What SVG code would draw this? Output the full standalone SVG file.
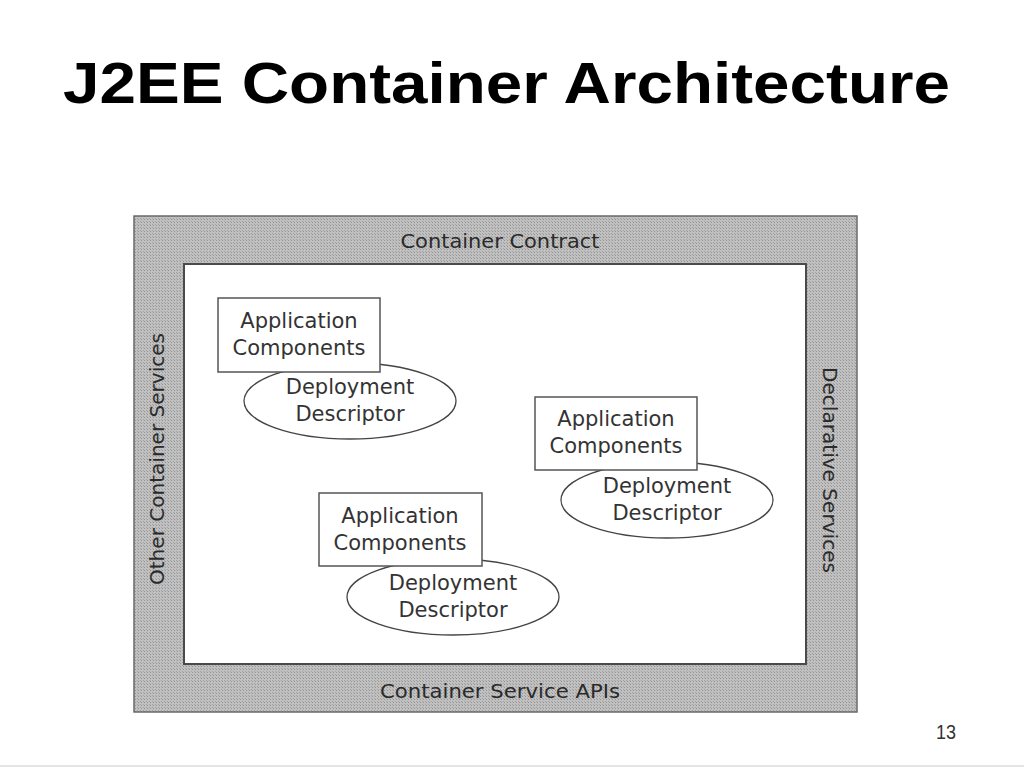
<svg xmlns="http://www.w3.org/2000/svg" width="1024" height="768" viewBox="0 0 1024 768">
<defs>
<pattern id="stipple" width="3" height="3" patternUnits="userSpaceOnUse">
<rect width="3" height="3" fill="#c0c0c0"/>
<rect width="1" height="1" fill="#949494"/>
<rect x="2" y="2" width="1" height="1" fill="#a2a2a2"/>
</pattern>
<style>
.lbl{font-family:"DejaVu Sans","Liberation Sans",sans-serif;font-size:21px;fill:#333;text-anchor:middle}
.band{font-family:"DejaVu Sans","Liberation Sans",sans-serif;font-size:20px;fill:#2a2a2a;text-anchor:middle}
.box{fill:#fff;stroke:#555;stroke-width:1.5}
.ell{fill:#fff;stroke:#444;stroke-width:1.3}
</style>
</defs>
<rect width="1024" height="768" fill="#fff"/>
<text x="63" y="103" font-family="Liberation Sans,Arial,sans-serif" font-weight="bold" font-size="57" fill="#000" textLength="887" lengthAdjust="spacingAndGlyphs">J2EE Container Architecture</text>

<g id="container">
<rect x="134" y="216" width="723" height="496" fill="url(#stipple)" stroke="#6a6a6a" stroke-width="1.5"/>
<rect x="184" y="264" width="622" height="400" fill="#fff" stroke="#4a4a4a" stroke-width="2"/>
<text class="band" x="500" y="248" textLength="199" lengthAdjust="spacingAndGlyphs">Container Contract</text>
<text class="band" x="500" y="698" textLength="240" lengthAdjust="spacingAndGlyphs">Container Service APIs</text>
<text class="band" transform="translate(164,459) rotate(-90)" textLength="252" lengthAdjust="spacingAndGlyphs">Other Container Services</text>
<text class="band" transform="translate(823,470) rotate(90)" textLength="206" lengthAdjust="spacingAndGlyphs">Declarative Services</text>
</g>

<g id="connectors"></g>

<g id="unit1">
<g id="dd1"><ellipse class="ell" cx="350" cy="401" rx="106" ry="38"/>
<text class="lbl" x="350" y="394">Deployment</text>
<text class="lbl" x="350" y="421">Descriptor</text></g>
<g id="ac1"><rect class="box" x="218" y="298" width="162" height="74"/>
<text class="lbl" x="299" y="328">Application</text>
<text class="lbl" x="299" y="355">Components</text></g>
</g>

<g id="unit2">
<g id="dd2"><ellipse class="ell" cx="667" cy="500" rx="106" ry="38"/>
<text class="lbl" x="667" y="493">Deployment</text>
<text class="lbl" x="667" y="520">Descriptor</text></g>
<g id="ac2"><rect class="box" x="535" y="397" width="162" height="73"/>
<text class="lbl" x="616" y="426">Application</text>
<text class="lbl" x="616" y="453">Components</text></g>
</g>

<g id="unit3">
<g id="dd3"><ellipse class="ell" cx="453" cy="597" rx="106" ry="38"/>
<text class="lbl" x="453" y="590">Deployment</text>
<text class="lbl" x="453" y="617">Descriptor</text></g>
<g id="ac3"><rect class="box" x="319" y="493" width="163" height="73"/>
<text class="lbl" x="400" y="523">Application</text>
<text class="lbl" x="400" y="550">Components</text></g>
</g>

<text x="936" y="739" font-family="Liberation Sans,Arial,sans-serif" font-size="21" fill="#333" textLength="20" lengthAdjust="spacingAndGlyphs">13</text>
<line x1="0" y1="766" x2="1024" y2="766" stroke="#e4e4e4" stroke-width="2"/>
</svg>
